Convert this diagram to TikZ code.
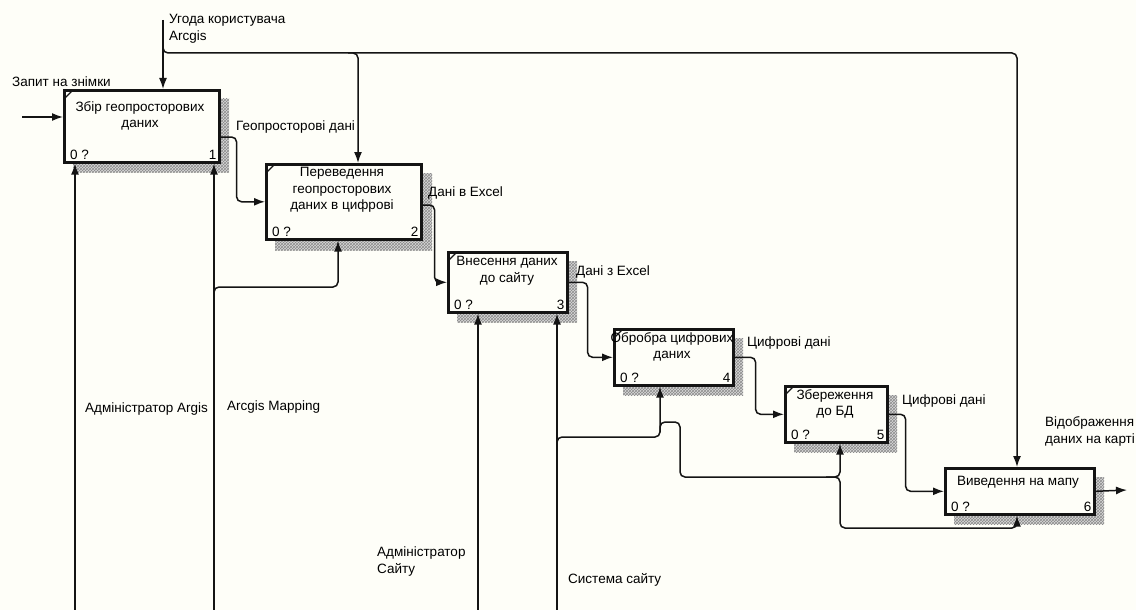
\documentclass[tikz,border=0pt]{standalone}
\usepackage{fontspec}
\setmainfont{Liberation Sans}
\usetikzlibrary{arrows.meta,patterns,calc}
\definecolor{paper}{RGB}{254,254,248}
\definecolor{ink}{RGB}{20,20,20}

\begin{document}
\begin{tikzpicture}[x=1pt,y=-1pt,
    box/.style={draw=ink,line width=2.6pt,fill=paper,anchor=north west,inner sep=0pt},
    hatch/.style={preaction={fill=gray!30},pattern=crosshatch,pattern color=gray!90},
    flow/.style={draw=ink,line width=1.5pt,rounded corners=5pt,-{Latex[length=11pt,width=8pt]}},
    ttl/.style={align=center,font=\fontsize{13.5}{16.5}\selectfont,inner sep=0pt},
    txt/.style={anchor=west,align=left,font=\fontsize{13.5}{17}\selectfont,inner sep=0pt},
    num/.style={font=\fontsize{13.5}{16}\selectfont,inner sep=0pt}]
    \fill[paper] (0,0) rectangle (1136,610);
    \useasboundingbox (0,0) rectangle (1136,610);

    % shadows
    \fill[hatch] (73,99) rectangle (229,172);
    \fill[hatch] (275,173) rectangle (432,250);
    \fill[hatch] (457,261) rectangle (577,322);
    \fill[hatch] (623,338) rectangle (743,395);
    \fill[hatch] (794,395) rectangle (897,452);
    \fill[hatch] (954,477) rectangle (1104,524);

    % boxes
    \node[box,minimum width=155pt,minimum height=72pt] (b1) at (63,89) {};
    \node[box,minimum width=155pt,minimum height=75pt] (b2) at (265,163) {};
    \node[box,minimum width=119pt,minimum height=60pt] (b3) at (447,251) {};
    \node[box,minimum width=119pt,minimum height=56pt] (b4) at (613,328) {};
    \node[box,minimum width=102pt,minimum height=56pt] (b5) at (784,385) {};
    \node[box,minimum width=149pt,minimum height=46pt] (b6) at (944,467) {};

    \node[ttl] (t1) at (140,116) {Збір геопросторових\\даних};
    \node[ttl] (t2) at (342,190) {Переведення\\геопросторових\\даних в цифрові};
    \node[ttl] (t3) at (507,271) {Внесення даних\\до сайту};
    \node[ttl] (t4) at (672,347) {Обробра цифрових\\даних};
    \node[ttl] (t5) at (835,404) {Збереження\\до БД};
    \node[ttl] (t6) at (1018,482) {Виведення на мапу};

    \foreach \b/\n in {b1/1,b2/2,b3/3,b4/4,b5/5,b6/6}{
        \node[num,anchor=south west] (z\b) at ($(\b.south west)+(7,-4)$) {0 ?};
        \node[num,anchor=south east] (n\b) at ($(\b.south east)+(-4,-4)$) {\n};
    }
    \foreach \b in {b1,b2,b3,b4,b5}
        \draw[ink,line width=1.2pt] ($(\b.north west)+(1,10)$) -- ($(\b.north west)+(10,1)$);

    % inputs and controls
    \coordinate (in1) at (22,117);
    \draw[flow] (in1) -- (b1.west |- in1);
    \coordinate (ctl) at (163,20);
    \draw[flow] (ctl) -- (ctl |- b1.north);
    \coordinate (k2) at (358,53);
    \coordinate (k6) at (1017,53);
    \draw[flow] ($(ctl)+(0,24)$) -- ($(ctl)+(0,33)$) -- (k6) -- (k6 |- b6.north);
    \draw[flow] ($(k2)+(-10,0)$) -- (k2) -- (k2 |- b2.north);

    % mechanisms
    \coordinate (m1) at (75,610);
    \coordinate (m2) at (214,610);
    \coordinate (m3) at (478,610);
    \coordinate (m4) at (557,610);
    \draw[flow] (m1) -- (m1 |- b1.south);
    \draw[flow] (m2) -- (m2 |- b1.south);
    \draw[flow] (m3) -- (m3 |- b3.south);
    \draw[flow] (m4) -- (m4 |- b3.south);
    \coordinate (k3) at (338,287);
    \draw[flow] (214,298) -- (214,287) -- (k3) -- (k3 |- b2.south);
    \coordinate (k4) at (660,437);
    \draw[flow] (557,448) -- (557,437) -- (k4) -- (k4 |- b4.south);
    \coordinate (k5) at (840,477);
    \draw[flow] (660,432) -- (660,422) -- (680,422) -- (680,477) -- (k5) -- (k5 |- b5.south);
    \coordinate (k7) at (1017,528);
    \draw[flow] (826,477) -- (k5) -- (840,528) -- (k7) -- (k7 |- b6.south);

    % outputs
    \draw[flow] ($(b1.north east)+(0,48)$) -- ++(16,0) |- (b2.west);
    \draw[flow] ($(b2.north east)+(0,42)$) -- ++(12,0) |- (b3.west);
    \draw[flow] (b3.east) -- ++(19,0) |- (b4.west);
    \draw[flow] (b4.east) -- ++(21,0) |- (b5.west);
    \draw[flow] (b5.east) -- ++(17,0) |- (b6.west);
    \coordinate (out6) at (1127,490);
    \draw[flow] (b6.east) -- (out6);

    % labels
    \node[txt] (l1) at (12,82) {Запит на знімки};
    \node[txt] (l2) at (169,29) {Угода користувача\\Arcgis};
    \node[txt] (l3) at (236,127) {Геопросторові дані};
    \node[txt] (l4) at (428,193) {Дані в Excel};
    \node[txt] (l5) at (576,272) {Дані з Excel};
    \node[txt] (l6) at (747,343) {Цифрові дані};
    \node[txt] (l7) at (902,401) {Цифрові дані};
    \node[txt] (l8) at (1045,431) {Відображення\\даних на карті};
    \node[txt] (l9) at (85,409) {Адміністратор Argis};
    \node[txt] (l10) at (227,407) {Arcgis Mapping};
    \node[txt] (l11) at (377,562) {Адміністратор\\Сайту};
    \node[txt] (l12) at (568,580) {Система сайту};
\end{tikzpicture}
\end{document}
